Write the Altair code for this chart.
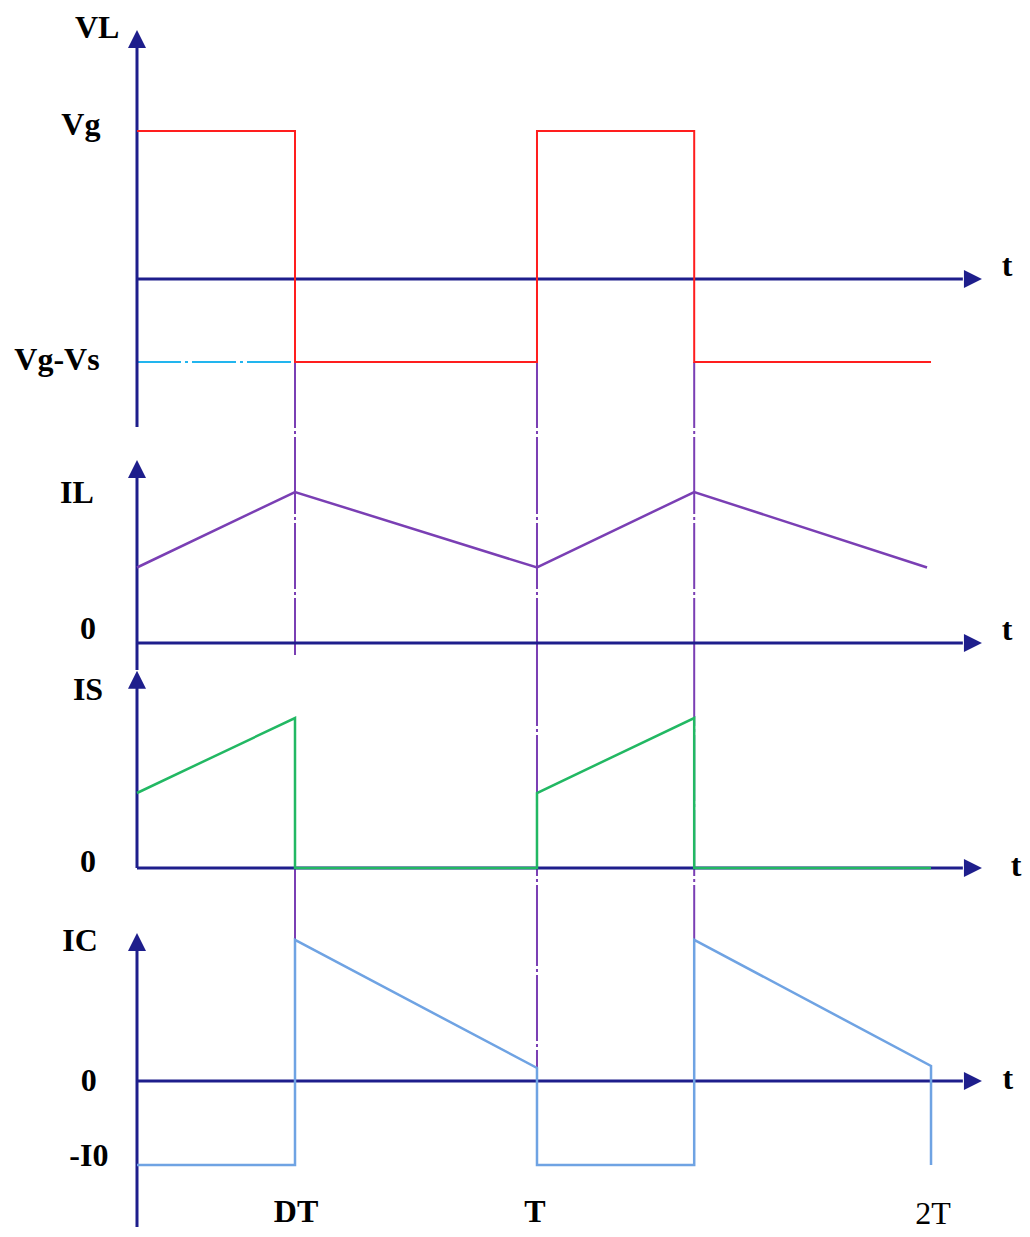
import altair as alt
import pandas as pd

# ---------------- data (time in units of the period T) ----------------
DT = 0.397   # end of switch-on interval
T1 = 1.005   # one period
TDT = 1.400  # T + DT
T2 = 1.995   # two periods

# VL : inductor voltage
vl_t = [0, DT, DT, T1, T1, TDT, TDT, T2]
vl_v = [1.0, 1.0, -0.56, -0.56, 1.0, 1.0, -0.56, -0.56]
# IL : inductor current
il_t = [0, DT, T1, TDT, 1.985]
il_v = [1.0, 2.0, 1.0, 2.0, 1.0]
# IS : switch current
is_t = [0, DT, DT, T1, T1, TDT, TDT, T2]
is_v = [1.0, 2.0, 0.0, 0.0, 1.0, 2.0, 0.0, 0.0]
# IC : capacitor current
ic_t = [0, DT, DT, T1, T1, TDT, TDT, T2, T2]
ic_v = [-1.0, -1.0, 1.68, 0.155, -1.0, -1.0, 1.68, 0.18, -1.0]

VGVS = -0.56        # level of Vg-Vs
TICK_T = [0.3995, 1.0, 2.0]
TICK_LABELS = ["DT", "T", "2T"]

# ---------------- styling / layout ----------------
NAVY = "#1E1E8C"
RED = "#FF1E1E"
PURPLE = "#7A3FB4"
GREEN = "#22B863"
BLUE = "#6FA3E3"
CYAN = "#22B5EE"
FONT = "Liberation Serif"
FS = 32

W = 1014
X_DOMAIN = [-0.3241, 2.2236]
T_AXIS_END = 2.075     # end of t-axis shaft
T_ARROW_TIP = 2.123

UP = "M0,0L-1,2L1,2Z"
RIGHT = "M0,0L-2,-1L-2,1Z"


def ydom(h, off, ppu):
    return [-(h - off) / ppu, off / ppu]


xs = alt.Scale(domain=X_DOMAIN, nice=False, zero=False)


def build_panel(h, off, ppu, sig, color, sw, guides, yaxis, arrow_tip, texts,
                extra=None, normal_texts=None):
    dom = ydom(h, off, ppu)
    ys = alt.Scale(domain=dom, nice=False, zero=False)
    X = alt.X("t:Q", scale=xs, axis=None)
    Y = alt.Y("y:Q", scale=ys, axis=None)

    gdf = pd.DataFrame(guides, columns=["t", "y", "y2"])
    g_layer = alt.Chart(gdf).mark_rule(
        color=PURPLE, strokeWidth=2, strokeDash=[66, 3, 3, 3]
    ).encode(x=X, y=Y, y2="y2:Q")

    ax_y = alt.Chart(pd.DataFrame({"t": [0], "y": [yaxis[0]], "y2": [yaxis[1]]})).mark_rule(
        color=NAVY, strokeWidth=3).encode(x=X, y=Y, y2="y2:Q")
    ax_t = alt.Chart(pd.DataFrame({"t": [0], "t2": [T_AXIS_END], "y": [0]})).mark_rule(
        color=NAVY, strokeWidth=3).encode(x=X, x2="t2:Q", y=Y)
    arr_up = alt.Chart(pd.DataFrame({"t": [0], "y": [arrow_tip]})).mark_point(
        shape=UP, filled=True, size=324, color=NAVY, opacity=1, strokeWidth=0
    ).encode(x=X, y=Y)
    arr_r = alt.Chart(pd.DataFrame({"t": [T_ARROW_TIP], "y": [0]})).mark_point(
        shape=RIGHT, filled=True, size=324, color=NAVY, opacity=1, strokeWidth=0
    ).encode(x=X, y=Y)

    sdf = pd.DataFrame({"t": sig[0], "y": sig[1], "i": list(range(len(sig[0])))})
    s_layer = alt.Chart(sdf).mark_line(
        color=color, strokeWidth=sw, strokeJoin="miter"
    ).encode(x=X, y=Y, order=alt.Order("i:Q"))

    tdf = pd.DataFrame(texts, columns=["t", "y", "label"])
    t_layer = alt.Chart(tdf).mark_text(
        font=FONT, fontSize=FS, fontWeight="bold", color="black",
        align="center", baseline="middle"
    ).encode(x=X, y=Y, text="label:N")

    layers = [g_layer]
    if extra is not None:
        layers += [e(X, Y) for e in extra]
    layers += [ax_y, ax_t, arr_up, arr_r, s_layer, t_layer]
    if normal_texts is not None:
        ndf = pd.DataFrame(normal_texts, columns=["t", "y", "label"])
        layers.append(alt.Chart(ndf).mark_text(
            font=FONT, fontSize=FS, fontWeight="normal", color="black",
            align="center", baseline="middle"
        ).encode(x=X, y=Y, text="label:N"))
    return alt.layer(*layers).properties(width=W, height=h)


# ---- panel 1 : VL ----
H1, O1, P1 = 440, 271, 148.0
d1 = ydom(H1, O1, P1)


def cyan_guide(X, Y):
    return alt.Chart(pd.DataFrame({"t": [0], "t2": [DT], "y": [VGVS]})).mark_rule(
        color=CYAN, strokeWidth=2, strokeDash=[44, 4, 3, 4]
    ).encode(x=X, x2="t2:Q", y=Y)


p1 = build_panel(
    H1, O1, P1, (vl_t, vl_v), RED, 2,
    guides=[(DT, VGVS, d1[0]), (T1, VGVS, d1[0]), (TDT, VGVS, d1[0])],
    yaxis=(-1.0, 1.62), arrow_tip=1.682,
    texts=[(-0.10, 1.695, "VL"), (-0.141, 1.04, "Vg"), (-0.201, -0.55, "Vg-Vs"),
           (2.186, 0.088, "t")],
    extra=[cyan_guide],
)

# ---- panel 2 : IL ----
H2, O2, P2 = 212, 195, 75.5
d2 = ydom(H2, O2, P2)
p2 = build_panel(
    H2, O2, P2, (il_t, il_v), PURPLE, 2.5,
    guides=[(DT, d2[1], -0.16), (T1, d2[1], d2[0]), (TDT, d2[1], d2[0])],
    yaxis=(-0.358, 2.29), arrow_tip=2.424,
    texts=[(-0.151, 1.99, "IL"), (-0.123, 0.185, "0"), (2.186, 0.17, "t")],
)

# ---- panel 3 : IS ----
H3, O3, P3 = 240, 208, 75.0
d3 = ydom(H3, O3, P3)
p3 = build_panel(
    H3, O3, P3, (is_t, is_v), GREEN, 2.5,
    guides=[(DT, 0, d3[0]), (T1, d3[1], d3[0]), (TDT, d3[1], d3[0])],
    yaxis=(0, 2.51), arrow_tip=2.63,
    texts=[(-0.123, 2.373, "IS"), (-0.123, 0.08, "0"), (2.209, 0.027, "t")],
)

# ---- panel 4 : IC ----
H4, O4, P4 = 327, 181, 84.0
d4 = ydom(H4, O4, P4)
p4 = build_panel(
    H4, O4, P4, (ic_t, ic_v), BLUE, 2.5,
    guides=[(DT, d4[1], 1.68), (T1, d4[1], 0.155), (TDT, d4[1], 1.68)],
    yaxis=(d4[0], 1.64), arrow_tip=1.762,
    texts=[(-0.143, 1.667, "IC"), (-0.121, 0.0, "0"), (-0.121, -0.893, "-I0"),
           (2.188, 0.024, "t"),
           (TICK_T[0], -1.56, TICK_LABELS[0]), (TICK_T[1], -1.56, TICK_LABELS[1])],
    normal_texts=[(TICK_T[2], -1.583, TICK_LABELS[2])],
)

chart = alt.vconcat(p1, p2, p3, p4, spacing=0, bounds="flush").properties(
    padding=0
).configure_view(stroke=None)

chart.save("out.html", embed_options={"renderer": "svg", "actions": False})
